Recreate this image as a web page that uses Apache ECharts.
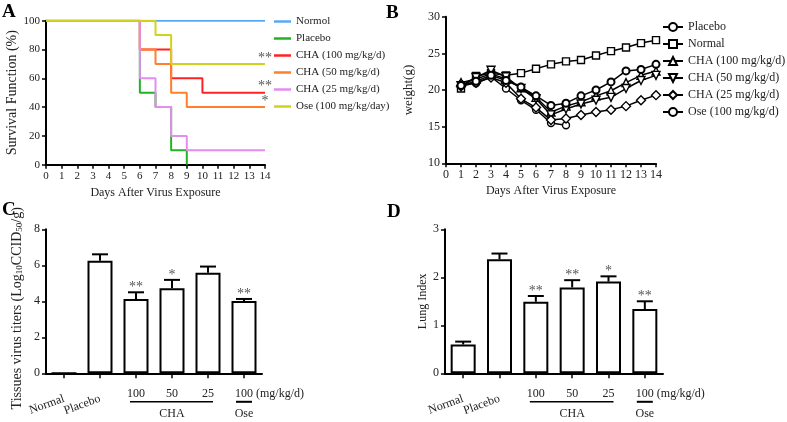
<!DOCTYPE html>
<html><head><meta charset="utf-8">
<script src="https://cdn.jsdelivr.net/npm/echarts@6/dist/echarts.min.js"></script>
<style>html,body{margin:0;padding:0;background:#fff}#c{width:787px;height:422px}</style>
</head><body><div id="c"></div>
<script>
// ---------- Panel A: survival ----------
const survivalNames = ['Normol','Placebo','CHA (100 mg/kg/d)','CHA (50 mg/kg/d)','CHA (25 mg/kg/d)','Ose (100 mg/kg/day)'];
const survivalColors = ['#5aa9f4','#22b322','#ff2222','#ff7f2a','#e48cf0','#d2d21e'];
const normolDays = [0,14],            normolSurv = [100,100];
const placeboDays = [0,6,7,8,9],      placeboSurv = [100,50,40,10,0];
const cha100Days = [0,6,8,10,14],     cha100Surv = [100,80,60,50,50];
const cha50Days = [0,6,7,8,9,14],     cha50Surv = [100,80,70,50,40,40];
const cha25Days = [0,6,7,8,9,14],     cha25Surv = [100,60,40,20,10,10];
const oseDays = [0,7,8,14],           oseSurv = [100,90,70,70];
const survivalStars = ['','','**','*','','**'];

// ---------- Panel B: weight ----------
const weightDays = [1,2,3,4,5,6,7,8,9,10,11,12,13,14];
const weightNames = ['Placebo','Normal','CHA (100 mg/kg/d)','CHA (50 mg/kg/d)','CHA (25 mg/kg/d)','Ose (100 mg/kg/d)'];
const weightPlacebo = [20.8,20.9,21.8,20.2,18.6,17.3,15.5,15.2];
const weightNormal  = [20.2,21.9,22.3,22.0,22.3,22.9,23.5,23.9,24.1,24.7,25.3,25.8,26.4,26.8];
const weightCha100  = [21.0,21.5,22.2,21.5,20.3,19.0,17.0,17.8,18.4,19.2,19.9,21.0,22.0,22.6];
const weightCha50   = [20.6,21.7,22.7,21.8,20.2,18.8,16.6,17.4,18.1,18.6,19.0,20.2,21.3,22.0];
const weightCha25   = [20.5,21.0,21.7,21.0,18.8,17.6,15.9,16.1,16.6,17.0,17.3,17.8,18.6,19.3];
const weightOse     = [20.6,21.2,22.0,21.3,20.4,19.2,17.9,18.2,19.2,20.0,21.1,22.6,22.8,23.5];

// ---------- Panels C & D ----------
const groupLabels = ['Normal','Placebo','100','50','25','100'];
const titerMean = [0,6.25,4.13,4.72,5.59,4.02];
const titerSem  = [0,0.36,0.37,0.47,0.34,0.11];
const titerStars = ['','','**','*','','**'];
const lungMean = [0.60,2.375,1.49,1.79,1.91,1.34];
const lungSem  = [0.06,0.12,0.12,0.15,0.11,0.16];
const lungStars = ['','','**','**','*','**'];

const FONT = '"Liberation Serif", "Times New Roman", serif';
const TXT = '#222';
const chart = echarts.init(document.getElementById('c'), null, {renderer:'canvas'});

function pts(xs, ys){ return xs.map((x,i)=>[x, ys[i]]); }
const survData = [pts(normolDays,normolSurv),pts(placeboDays,placeboSurv),pts(cha100Days,cha100Surv),
                  pts(cha50Days,cha50Surv),pts(cha25Days,cha25Surv),pts(oseDays,oseSurv)];

const axisLineS = {show:true, lineStyle:{color:'#000', width:2}};
const tickS = {show:true, length:4, inside:false, lineStyle:{color:'#000', width:1.5}};

const series = [];
survData.forEach((d,k)=>{
  const data = d.map((p,i)=>{
    if (i===d.length-1 && survivalStars[k]) {
      return {value:p, label:{show:true, position:'top', distance:-1, formatter:survivalStars[k], color:'#555', fontFamily:FONT, fontSize:14}};
    }
    return p;
  });
  series.push({name:survivalNames[k], type:'line', xAxisIndex:0, yAxisIndex:0, step:'end',
    data, symbol:'circle', symbolSize:0, showSymbol:true, showAllSymbol:true,
    lineStyle:{color:survivalColors[k], width:2}, itemStyle:{color:survivalColors[k]},
    emphasis:{disabled:true}});
});

const wNamesB = weightNames.map(n=>n+'\u200b');
const wData = [weightPlacebo,weightNormal,weightCha100,weightCha50,weightCha25,weightOse];
const wSym = ['circle','rect','triangle','triangle','diamond','circle'];
const wRot = [0,0,0,180,0,0];
const wSize = [7,7,8,8,9,7];
wData.forEach((arr,k)=>{
  series.push({name:wNamesB[k], type:'line', xAxisIndex:1, yAxisIndex:1,
    data: arr.map((v,i)=>[weightDays[i], v]), symbol:wSym[k], symbolRotate:wRot[k], symbolSize:wSize[k],
    showAllSymbol:true,
    lineStyle:{color:'#000', width:1.5}, itemStyle:{color:'#fff', borderColor:'#000', borderWidth:k===5?2:1.4},
    emphasis:{disabled:true}, z:2+k});
});

function barSeries(xi, yi, vals){
  return {type:'bar', xAxisIndex:xi, yAxisIndex:yi, data:vals, barWidth:25,
    itemStyle:{color:'#fff', borderColor:'#000', borderWidth:2}, emphasis:{disabled:true}, z:2};
}
function errSeries(xi, yi, vals, errs, stars){
  return {type:'custom', xAxisIndex:xi, yAxisIndex:yi, z:5,
    data: vals.map((v,i)=>[i, v, errs[i]]),
    renderItem:(params, api)=>{
      const i = api.value(0), v = api.value(1), e = api.value(2);
      const p1 = api.coord([i, v + e]);
      const children = [];
      if (e > 0) {
        const p0 = api.coord([i, v]);
        children.push({type:'line', shape:{x1:p0[0],y1:p0[1],x2:p1[0],y2:p1[1]}, style:{stroke:'#000', lineWidth:2}});
        children.push({type:'line', shape:{x1:p1[0]-8,y1:p1[1],x2:p1[0]+8,y2:p1[1]}, style:{stroke:'#000', lineWidth:2}});
      }
      if (stars[i]) {
        children.push({type:'text', x:p1[0], y:p1[1]+2, style:{text:stars[i], align:'center', verticalAlign:'bottom',
          fill:'#555', fontFamily:FONT, fontSize:14}});
      }
      return {type:'group', children};
    }};
}
series.push(barSeries(2,2,titerMean), errSeries(2,2,titerMean,titerSem,titerStars));
series.push(barSeries(4,3,lungMean), errSeries(4,3,lungMean,lungSem,lungStars));

const lbl = (size, margin)=>({color:TXT, fontFamily:FONT, fontSize:size, margin});
const letter = (t,l,tp)=>({text:t, left:l, top:tp, padding:0, textStyle:{fontFamily:FONT, fontWeight:'bold', fontSize:19, color:'#000'}});

const option = {
  backgroundColor:'#fff',
  animation:false,
  title:[letter('A',2,3), letter('B',386,4), letter('C',2,201), letter('D',387,203)],
  legend:[
    {data:survivalNames, orient:'vertical', left:274, top:16, padding:0, icon:'rect', itemWidth:17, itemHeight:2.5, itemGap:6,
     textStyle:{fontFamily:FONT, fontSize:11, color:TXT, lineHeight:11}, selectedMode:false},
    {data:wNamesB, orient:'vertical', left:662, top:21, padding:0, itemWidth:20, itemHeight:10, itemGap:5,
     textStyle:{fontFamily:FONT, fontSize:12, color:TXT}, selectedMode:false}
  ],
  grid:[
    {left:46, top:20.7, width:219, height:144},
    {left:446, top:16.7, width:210, height:146.6},
    {left:46, top:229.3, width:216, height:144},
    {left:445, top:229.3, width:218, height:144}
  ],
  xAxis:[
    {type:'value', gridIndex:0, min:0, max:14, interval:1, axisLine:axisLineS, axisTick:tickS, splitLine:{show:false},
     axisLabel:lbl(11,6), name:'Days After Virus Exposure', nameLocation:'middle', nameGap:22,
     nameTextStyle:{fontFamily:FONT, fontSize:12, color:TXT}},
    {type:'value', gridIndex:1, min:0, max:14, interval:1, axisLine:axisLineS, axisTick:tickS, splitLine:{show:false},
     axisLabel:lbl(12,6), name:'Days After Virus Exposure', nameLocation:'middle', nameGap:22,
     nameTextStyle:{fontFamily:FONT, fontSize:12, color:TXT}},
    {type:'category', gridIndex:2, data:groupLabels, axisLine:axisLineS, axisTick:{show:true, alignWithLabel:true, length:5, lineStyle:{color:'#000', width:1.5}},
     axisLabel:Object.assign(lbl(12,25), {rotate:20, interval:0, formatter:(v,i)=>i<2?v:''})},
    {type:'category', gridIndex:2, position:'bottom', data:groupLabels, axisLine:{show:false}, axisTick:{show:false},
     axisLabel:Object.assign(lbl(12,15), {interval:0, formatter:(v,i)=>i>=2?v:''})},
    {type:'category', gridIndex:3, data:groupLabels, axisLine:axisLineS, axisTick:{show:true, alignWithLabel:true, length:5, lineStyle:{color:'#000', width:1.5}},
     axisLabel:Object.assign(lbl(12,25), {rotate:20, interval:0, formatter:(v,i)=>i<2?v:''})},
    {type:'category', gridIndex:3, position:'bottom', data:groupLabels, axisLine:{show:false}, axisTick:{show:false},
     axisLabel:Object.assign(lbl(12,15), {interval:0, formatter:(v,i)=>i>=2?v:''})}
  ],
  yAxis:[
    {type:'value', gridIndex:0, min:0, max:100, interval:20, axisLine:axisLineS, axisTick:tickS, splitLine:{show:false},
     axisLabel:lbl(11,6), name:'Survival Function (%)', nameLocation:'middle', nameGap:26,
     nameTextStyle:{fontFamily:FONT, fontSize:14, color:TXT}},
    {type:'value', gridIndex:1, min:10, max:30, interval:5, axisLine:axisLineS, axisTick:tickS, splitLine:{show:false},
     axisLabel:lbl(12,6), name:'weight(g)', nameLocation:'middle', nameGap:31,
     nameTextStyle:{fontFamily:FONT, fontSize:13, color:TXT}},
    {type:'value', gridIndex:2, min:0, max:8, interval:2, axisLine:axisLineS, axisTick:tickS, splitLine:{show:false},
     axisLabel:lbl(12,6), name:'Tissues virus titers (Log{s|10}CCID{s|50}/g)', nameLocation:'middle', nameGap:22,
     nameTextStyle:{fontFamily:FONT, fontSize:14, color:TXT, padding:[0,14,0,0], rich:{s:{fontFamily:FONT, fontSize:9, color:TXT, verticalAlign:'bottom'}}}},
    {type:'value', gridIndex:3, min:0, max:3, interval:1, axisLine:axisLineS, axisTick:tickS, splitLine:{show:false},
     axisLabel:lbl(12,6), name:'Lung Index', nameLocation:'middle', nameGap:16,
     nameTextStyle:{fontFamily:FONT, fontSize:12, color:TXT}}
  ],
  series
};
chart.setOption(option);

// group annotations under C and D, placed from the category axes
function groupGraphics(xi, yi){
  const base = chart.convertToPixel({yAxisIndex:yi}, 0);
  const cx = i => chart.convertToPixel({xAxisIndex:xi}, i);
  const lineY = base + 28.5, textY = base + 41;
  const st = {fill:TXT, fontFamily:FONT, fontSize:12};
  return [
    {type:'line', shape:{x1:cx(2)-6, y1:lineY, x2:cx(4)+5, y2:lineY}, style:{stroke:'#000', lineWidth:1.5}},
    {type:'line', shape:{x1:cx(5)-8, y1:lineY, x2:cx(5)+8, y2:lineY}, style:{stroke:'#000', lineWidth:2}},
    {type:'text', x:(cx(2)+cx(4))/2, y:textY, style:Object.assign({text:'CHA', align:'center', verticalAlign:'middle'}, st)},
    {type:'text', x:cx(5), y:textY, style:Object.assign({text:'Ose', align:'center', verticalAlign:'middle'}, st)},
    {type:'text', x:cx(5)+12, y:base+21, style:Object.assign({text:'(mg/kg/d)', align:'left', verticalAlign:'middle'}, st)}
  ];
}
chart.setOption({graphic: groupGraphics(2,2).concat(groupGraphics(4,3))});
</script></body></html>
